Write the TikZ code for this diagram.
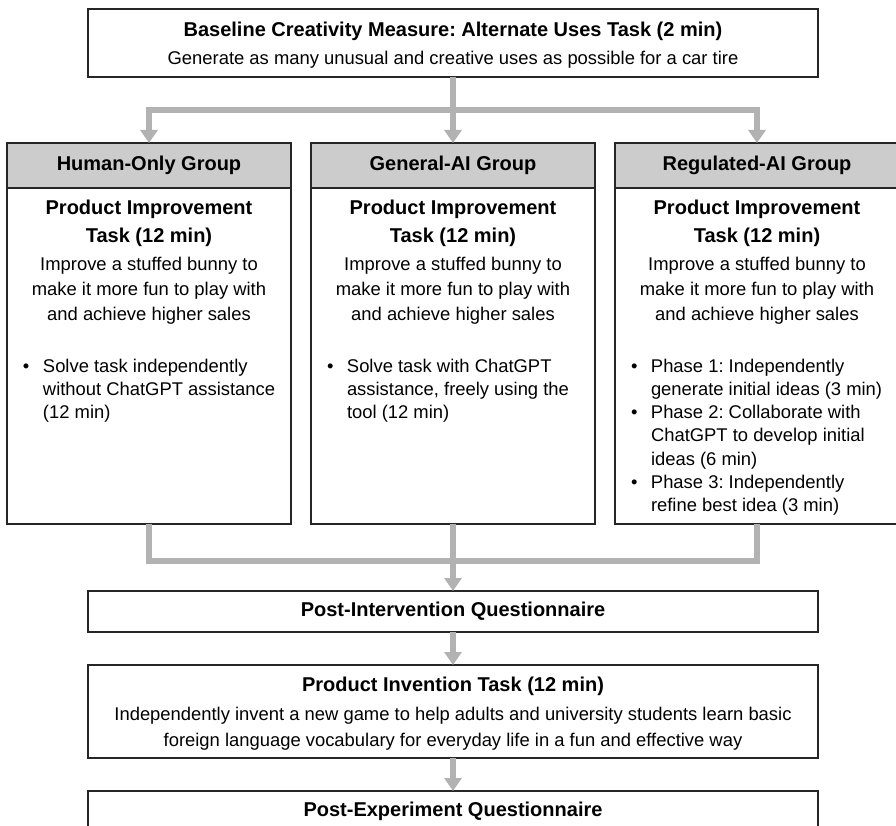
\documentclass[tikz,border=0pt]{standalone}
\usepackage{fontspec}
\setmainfont{Liberation Sans}
\usepackage{tikz}
\usetikzlibrary{positioning,calc,arrows.meta}
\frenchspacing

\newcommand{\bigbf}{\fontsize{20}{28.3}\selectfont\bfseries}
\newcommand{\normtxt}{\fontsize{18.4}{25}\selectfont\mdseries}
\newcommand{\listtxt}{\fontsize{18.4}{23.3}\selectfont\mdseries}
\newcommand{\impro}{{\bigbf Product Improvement\\Task (12 min)\par}\vskip 3pt
  {\normtxt Improve a stuffed bunny to\\make it more fun to play with\\and achieve higher sales\par}}
\newcommand{\bitem}[1]{{\listtxt\raggedright\spaceskip=0pt\xspaceskip=0pt\leftskip=28pt\noindent\llap{\makebox[20pt][l]{\textbullet}}#1\par}}

\begin{document}
\begin{tikzpicture}[
    x=1pt, y=-1pt,
    box/.style={draw=black!85, line width=1.3pt, fill=white, outer sep=0pt, inner sep=0pt,
        minimum width=730pt, text width=710pt, align=flush center},
    hdr/.style={draw=black!85, line width=1.3pt, fill=black!20, outer sep=0pt,
        minimum width=284pt, minimum height=45pt, font=\bigbf},
    panel/.style={draw=black!85, line width=1.3pt, fill=white, outer sep=0pt,
        minimum width=284pt, minimum height=336pt},
    ptext/.style={text width=268pt, align=flush center, inner sep=0pt, outer sep=0pt},
    conn/.style={draw=black!30, line width=6pt},
    arr/.style={conn, -{Triangle[width=17pt,length=13pt]}}
]
    \useasboundingbox (0,0) rectangle (896,826);

    % top
    \node[box, minimum height=68pt] (base) at (453,43) {
        {\bigbf\rule{0pt}{19pt}Baseline Creativity Measure: Alternate Uses Task (2 min)\par}\vskip 3pt
        {\normtxt Generate as many unusual and creative uses as possible for a car tire\par}
    };

    % groups
    \node[hdr] (hdrB) at (453,165.5) {General-AI Group};
    \node[hdr, left=20pt of hdrB] (hdrA) {Human-Only Group};
    \node[hdr, right=20pt of hdrB] (hdrC) {Regulated-AI Group};

    \node[panel, below=0pt of hdrA] (bodyA) {};
    \node[panel, below=0pt of hdrB] (bodyB) {};
    \node[panel, below=0pt of hdrC] (bodyC) {};

    \node[ptext, below=12pt of bodyA.north] (txtA) {\impro\vskip 28pt
        \bitem{Solve task independently\\without ChatGPT assistance\\(12 min)}};
    \node[ptext, below=12pt of bodyB.north] (txtB) {\impro\vskip 28pt
        \bitem{Solve task with ChatGPT\\assistance, freely using the\\tool (12 min)}};
    \node[ptext, below=12pt of bodyC.north] (txtC) {\impro\vskip 28pt
        \bitem{Phase 1: Independently\\generate initial ideas (3 min)}
        \bitem{Phase 2: Collaborate with\\ChatGPT to develop initial\\ideas (6 min)}
        \bitem{Phase 3: Independently\\refine best idea (3 min)}};

    % bottom
    \node[box, minimum height=41pt, below=67pt of bodyB, font=\bigbf] (postint) {Post-Intervention Questionnaire};
    \node[box, minimum height=93pt, below=33pt of postint] (invent) {
        {\bigbf\rule{0pt}{19pt}Product Invention Task (12 min)\par}\vskip 3pt
        {\fontsize{18.4}{26}\selectfont Independently invent a new game to help adults and university students learn basic\\
        foreign language vocabulary for everyday life in a fun and effective way\par}
    };
    \node[box, minimum height=41pt, below=33pt of invent, font=\bigbf] (postexp) {Post-Experiment Questionnaire};

    \coordinate (split) at ($(base.south)+(0,33)$);
    \coordinate (merge) at ($(bodyB.south)+(0,37)$);

    \draw[arr] (base.south) -- (hdrB.north);
    \draw[arr] (split) -| (hdrA.north);
    \draw[arr] (split) -| (hdrC.north);
    \draw[conn] (bodyA.south) |- (merge) -| (bodyC.south);
    \draw[arr] (bodyB.south) -- (postint.north);
    \draw[arr] (postint) -- (invent);
    \draw[arr] (invent) -- (postexp);
\end{tikzpicture}
\end{document}
